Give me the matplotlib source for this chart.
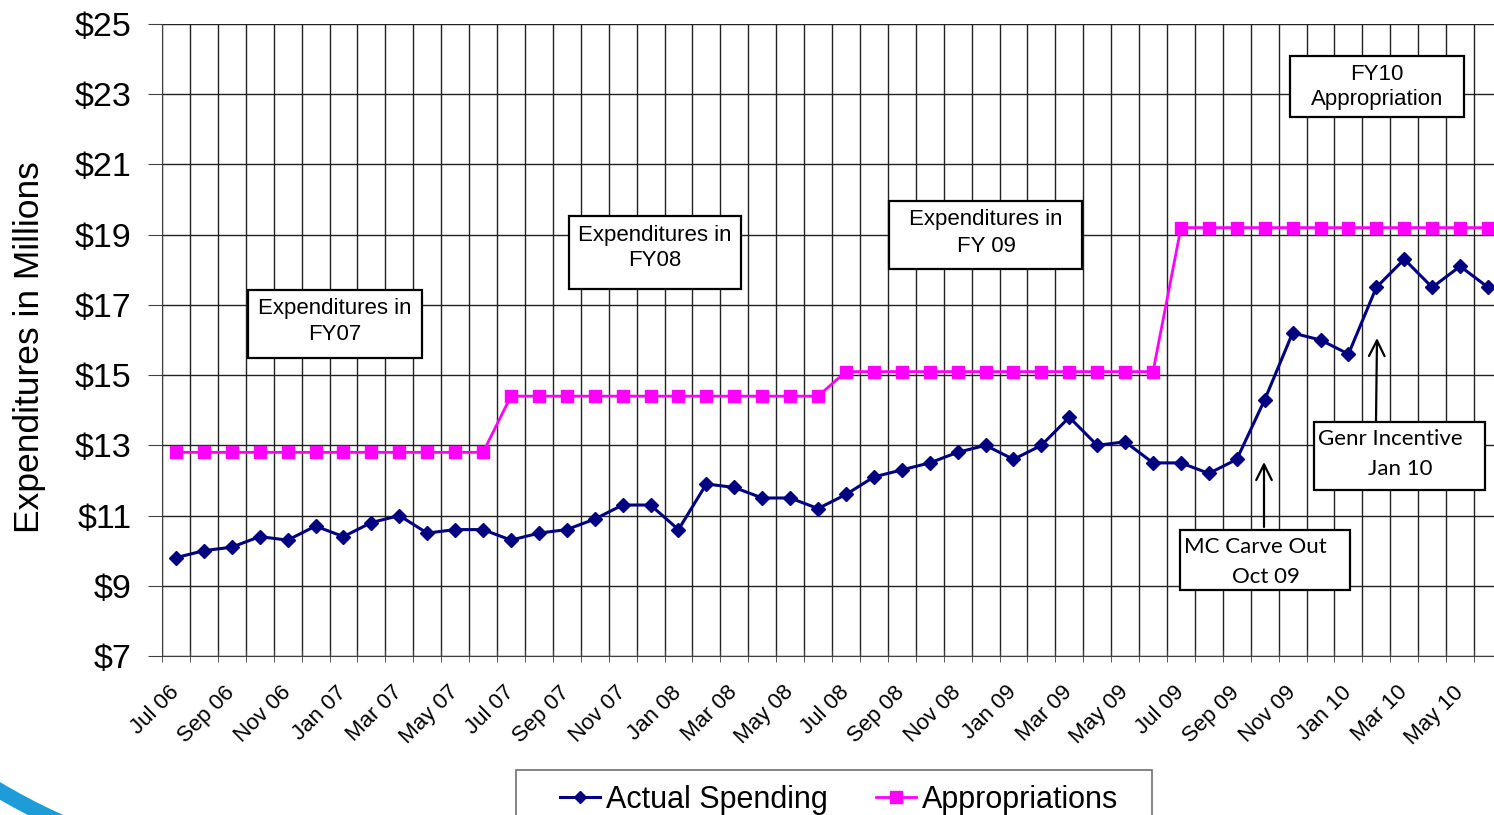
import numpy as np
import matplotlib.pyplot as plt
from matplotlib.patches import Rectangle, Arc
from matplotlib.lines import Line2D

# monthly categories, Jul 06 .. Jun 10
months = ["Jul 06", "Aug 06", "Sep 06", "Oct 06", "Nov 06", "Dec 06",
          "Jan 07", "Feb 07", "Mar 07", "Apr 07", "May 07", "Jun 07",
          "Jul 07", "Aug 07", "Sep 07", "Oct 07", "Nov 07", "Dec 07",
          "Jan 08", "Feb 08", "Mar 08", "Apr 08", "May 08", "Jun 08",
          "Jul 08", "Aug 08", "Sep 08", "Oct 08", "Nov 08", "Dec 08",
          "Jan 09", "Feb 09", "Mar 09", "Apr 09", "May 09", "Jun 09",
          "Jul 09", "Aug 09", "Sep 09", "Oct 09", "Nov 09", "Dec 09",
          "Jan 10", "Feb 10", "Mar 10", "Apr 10", "May 10", "Jun 10"]

actual_spending = [9.8, 10.0, 10.1, 10.4, 10.3, 10.7, 10.4, 10.8, 11.0, 10.5, 10.6, 10.6,
                   10.3, 10.5, 10.6, 10.9, 11.3, 11.3, 10.6, 11.9, 11.8, 11.5, 11.5, 11.2,
                   11.6, 12.1, 12.3, 12.5, 12.8, 13.0, 12.6, 13.0, 13.8, 13.0, 13.1, 12.5,
                   12.5, 12.2, 12.6, 14.3, 16.2, 16.0, 15.6, 17.5, 18.3, 17.5, 18.1, 17.5]

appropriations = [12.8] * 12 + [14.4] * 12 + [15.1] * 12 + [19.2] * 12

y_ticks = [7, 9, 11, 13, 15, 17, 19, 21, 23, 25]

W, H = 1494, 815
fig = plt.figure(figsize=(W / 100, H / 100), dpi=100)
ax = fig.add_axes([162 / W, 1 - 656 / H, 1340 / W, 632 / H])

x = np.arange(len(months))
ax.plot(x, appropriations, color='#FF00FF', lw=2, marker='s', ms=9,
        mec='#FF00FF', mfc='#FF00FF', zorder=3, clip_on=False)
ax.plot(x, actual_spending, color='#000080', lw=2.2, marker='D', ms=7,
        mec='#000080', mfc='#000080', zorder=4, clip_on=False)

ax.set_xlim(-0.5, len(months) - 0.5)
ax.set_ylim(7, 25)

ax.set_yticks(y_ticks)
ax.set_yticklabels([f"${v}" for v in y_ticks], fontsize=24.5, family='Liberation Sans')
ax.set_xticks(x[::2])
ax.set_xticklabels(months[::2], rotation=45, ha='right', va='center',
                   rotation_mode='anchor', fontsize=16, family='Liberation Sans')
ax.set_xticks(np.arange(-0.5, len(months)), minor=True)

ax.tick_params(axis='x', which='major', length=0, pad=24)
ax.tick_params(axis='x', which='minor', length=8, direction='inout', color='#404040')
ax.tick_params(axis='y', which='major', length=10, direction='out', pad=12, color='#404040')

ax.grid(axis='x', which='minor', color='#222222', lw=1)
ax.grid(axis='y', which='major', color='#222222', lw=1)
ax.set_axisbelow(True)
for s in ['top', 'right']:
    ax.spines[s].set_visible(False)
ax.spines['left'].set_color('#404040')
ax.spines['bottom'].set_color('#404040')

fig.text(30 / W, 1 - 347 / H, "Expenditures in Millions", rotation=90,
         ha='center', va='center', fontsize=25.5, family='Liberation Sans')


def box(x0, y0, x1, y1):
    fig.add_artist(Rectangle((x0 / W, 1 - y1 / H), (x1 - x0) / W, (y1 - y0) / H,
                             transform=fig.transFigure, facecolor='white',
                             edgecolor='black', lw=1.6, zorder=5))


def label(xc, yc, s, ha='center', fam='Liberation Sans', size=16):
    fig.text(xc / W, 1 - yc / H, s, ha=ha, va='center', fontsize=size,
             family=fam, zorder=6)


box(248, 290, 422, 358)
label(335, 308, "Expenditures in")
label(335, 334, "FY07")
box(569, 216, 741, 289)
label(655, 235, "Expenditures in")
label(655, 261, "FY08")
box(889, 201, 1082, 269)
label(986, 220, "Expenditures in")
label(986, 246, "FY 09")
box(1290, 56, 1464, 117)
label(1377, 74, "FY10")
label(1377, 100, "Appropriation")

box(1180, 530, 1350, 590)
label(1184, 547, "MC Carve Out", ha='left', fam='Lato', size=16)
label(1266, 577, "Oct 09", fam='Lato', size=16)
box(1314, 422, 1485, 490)
label(1318, 439, "Genr Incentive", ha='left', fam='Lato', size=16)
label(1400, 469, "Jan 10", fam='Lato', size=16)

for (xa, ya, xb, yb) in [(1264, 527, 1264, 462), (1376, 421, 1377, 338)]:
    ax.annotate('', xy=(xb, H - yb), xytext=(xa, H - ya), xycoords='figure pixels',
                textcoords='figure pixels',
                arrowprops=dict(arrowstyle='->', lw=1.6, color='black',
                                mutation_scale=28, shrinkA=0, shrinkB=0))

# legend
handles = [Line2D([], [], color='#000080', lw=2.2, marker='D', ms=6),
           Line2D([], [], color='#FF00FF', lw=2, marker='s', ms=8)]
fig.legend(handles, ["Actual Spending", "Appropriations"], loc='upper left',
           bbox_to_anchor=(560 / W, 1 - 785 / H), frameon=False, ncol=2,
           prop={'family': 'Liberation Sans', 'size': 22}, handlelength=1.3,
           handletextpad=0.2, columnspacing=1.6, borderaxespad=0, borderpad=0)
fig.add_artist(Rectangle((516 / W, 1 - 850 / H), 636 / W, 80 / H,
                         transform=fig.transFigure, facecolor='none',
                         edgecolor='#707070', lw=1.2))

# slide decoration in the corner
fig.add_artist(Arc((3.105, 5.52), 12.25, 12.25, theta1=225, theta2=250,
                   transform=fig.dpi_scale_trans, color='#1E9CD7', lw=11))

fig.savefig("out.png", dpi=100)
